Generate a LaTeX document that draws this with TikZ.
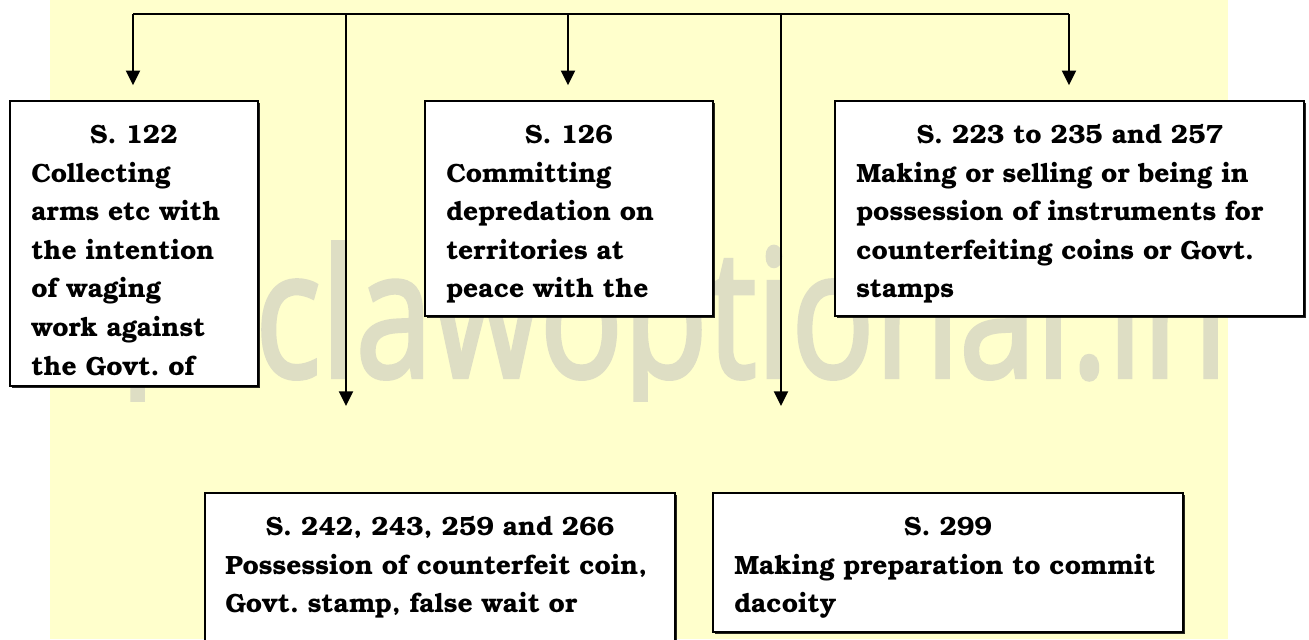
\documentclass[tikz,border=0pt]{standalone}
\usepackage{fontspec}
\usetikzlibrary{arrows.meta,fit,shadows}
\newfontfamily\wmfont[FakeBold=2.5]{Open Sans}
\newfontfamily\bkfont[Extension=.otf,UprightFont=*-bold,BoldFont=*-bold]{texgyrebonum}
\definecolor{bgyellow}{RGB}{255,255,204}
\definecolor{wmgrey}{RGB}{222,222,196}
\tikzset{
  conn/.style={line width=1.5pt,draw=black},
  arr/.style={conn,-{Triangle[width=10.5pt,length=11pt]}},
  boxnode/.style={draw=black,fill=white,line width=1.1pt,inner sep=0pt,
    drop shadow={shadow xshift=1.4pt,shadow yshift=-1.4pt,fill=black,opacity=0.85}},
  ttl/.style={anchor=base,inner sep=0pt,font=\bkfont\frenchspacing\fontsize{19.8}{28.95}\selectfont},
  bodytext/.style={anchor=base west,inner sep=0pt,align=left,
    font=\bkfont\frenchspacing\fontsize{19.8}{28.95}\selectfont},
  wm/.style={anchor=base west,inner sep=0pt,text=wmgrey,xscale=0.778,
    font=\wmfont\fontsize{133}{133}\selectfont}
}
\begin{document}
\begin{tikzpicture}[x=0.75pt,y=-0.75pt]
\clip (0,0) rectangle (1309,639);
\useasboundingbox (0,0) rectangle (1309,639);
\fill[bgyellow] (50,0) rectangle (1228,639);
\begin{scope}
\clip (50,0) rectangle (1228,401);
\node[wm] (wmp) at (120,377) {p};
\node[wm] (wmark) at (255,377) {clawoptional.in};
\end{scope}
% boxes
\node[boxnode,fit={(10,101) (258,386)}] (b1) {};
\node[boxnode,fit={(425,101) (713,316)}] (b2) {};
\node[boxnode,fit={(835,101) (1304,316)}] (b3) {};
\node[boxnode,fit={(205,493) (675,680)}] (b4) {};
\node[boxnode,fit={(713,493) (1183,632)}] (b5) {};
% connectors
\coordinate (t1) at (133,14);
\coordinate (t2) at (346,14);
\coordinate (t3) at (568,14);
\coordinate (t4) at (781,14);
\coordinate (t5) at (1069,14);
\coordinate (e2) at (346,406);
\coordinate (e4) at (781,406);
\draw[conn] (t1) -- (t5);
\draw[arr,shorten >=11.25pt] (t1) -- (t1 |- b1.north);
\draw[arr,shorten >=11.25pt] (t3) -- (t3 |- b2.north);
\draw[arr,shorten >=11.25pt] (t5) -- (t5 |- b3.north);
\draw[arr] (t2) -- (e2);
\draw[arr] (t4) -- (e4);
% texts
\node[ttl] (b1t) at (134,143) {S. 122};
\node[bodytext,text width=154.5pt] (b1x) at (31,182) {Collecting\\arms etc with\\the intention\\of waging\\work against\\the Govt. of};
\node[ttl] (b2t) at (569,143) {S. 126};
\node[bodytext,text width=184.5pt] (b2x) at (446,182) {Committing\\depredation on\\territories at\\peace with the};
\node[ttl] (b3t) at (1070,143) {S. 223 to 235 and 257};
\node[bodytext,text width=320pt] (b3x) at (856,182) {Making or selling or being in\\possession of instruments for\\counterfeiting coins or Govt.\\stamps};
\node[ttl] (b4t) at (440,535) {S. 242, 243, 259 and 266};
\node[bodytext,text width=322pt] (b4x) at (225,574) {Possession of counterfeit coin,\\Govt. stamp, false wait or};
\node[ttl] (b5t) at (948,535) {S. 299};
\node[bodytext,text width=322pt] (b5x) at (734,574) {Making preparation to commit\\dacoity};
\end{tikzpicture}
\end{document}
